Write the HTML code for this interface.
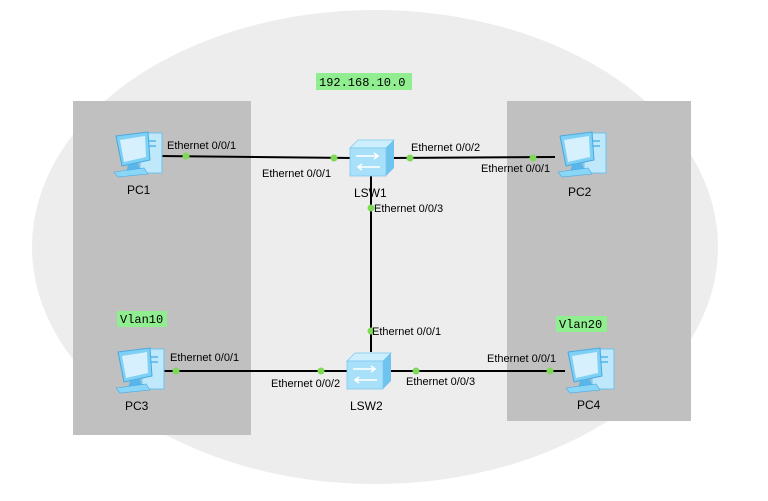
<!DOCTYPE html>
<html><head><meta charset="utf-8"><style>
html,body{margin:0;padding:0;background:#fff;}
svg{display:block;font-family:"Liberation Sans",sans-serif;}
.l{font-size:11px;fill:#000;}
.n{font-size:12px;fill:#000;}
.m{font-family:"Liberation Mono",monospace;font-size:12px;fill:#000;}
</style></head><body>
<svg width="768" height="501" viewBox="0 0 768 501">
<defs>
<g id="pc">
  <rect x="32" y="3" width="22" height="40" fill="#bfe8fb" stroke="#6cc2ee" stroke-width="1"/>
  <rect x="36" y="10" width="12" height="2" fill="#6cc2ee"/>
  <rect x="36" y="15" width="12" height="2" fill="#6cc2ee"/>
  <polygon points="8,6 40,2 42,30 14,36" fill="#7ed0f5" stroke="#4aa8e0"/>
  <polygon points="12,10 37,6 38,27 16,32" fill="#d6f1fd"/>
  <polygon points="20,35 30,33 32,40 18,42" fill="#5ab5ea"/>
  <polygon points="6,42 36,38 40,44 10,47" fill="#8ad6f7" stroke="#4aa8e0" stroke-width="0.6"/>
</g>
<g id="sw">
  <polygon points="0,8 8,0 44,0 36,8" fill="#cdeffd" stroke="#7cc8ee" stroke-width="0.8"/>
  <polygon points="36,8 44,0 44,28 36,36" fill="#6fc3ef"/>
  <rect x="0" y="8" width="36" height="28" fill="#a9e0f9" stroke="#7cc8ee" stroke-width="0.8"/>
  <path d="M6,16 H28 M24,13 L28,16 L24,19 M30,27 H8 M12,24 L8,27 L12,30" stroke="#fff" stroke-width="1.6" fill="none"/>
</g>
</defs>
<ellipse cx="375" cy="247" rx="343" ry="237" fill="#ededed"/>
<rect x="73" y="101" width="178" height="334" fill="#c0c0c0"/>
<rect x="507" y="101" width="184" height="320" fill="#c0c0c0"/>

<rect x="316" y="73" width="96" height="17" fill="#90ee90"/>
<text class="m" x="319" y="86">192.168.10.0</text>
<rect x="117" y="311" width="50" height="16" fill="#90ee90"/>
<text class="m" x="120" y="323">Vlan10</text>
<rect x="556" y="316" width="51" height="16" fill="#90ee90"/>
<text class="m" x="559" y="328">Vlan20</text>

<g stroke="#000" stroke-width="2">
<line x1="160" y1="156" x2="352" y2="158"/>
<line x1="390" y1="158" x2="555" y2="157"/>
<line x1="371" y1="175" x2="371" y2="352"/>
<line x1="160" y1="371" x2="350" y2="371"/>
<line x1="388" y1="371" x2="565" y2="371"/>
</g>

<use href="#pc" x="108" y="130"/>
<use href="#pc" x="552" y="130"/>
<use href="#pc" x="110" y="346"/>
<use href="#pc" x="560" y="346"/>
<use href="#sw" x="350" y="140"/>
<use href="#sw" x="347" y="353"/>

<g fill="#7ed957">
<circle cx="186" cy="156" r="3.5"/><circle cx="334" cy="158" r="3.5"/>
<circle cx="410" cy="158" r="3.5"/><circle cx="533" cy="158" r="3.5"/>
<circle cx="371" cy="208" r="3.5"/><circle cx="371" cy="331" r="3.5"/>
<circle cx="176" cy="371" r="3.5"/><circle cx="321" cy="371" r="3.5"/>
<circle cx="416" cy="371" r="3.5"/><circle cx="550" cy="371" r="3.5"/>
</g>

<text class="l" x="167" y="149">Ethernet 0/0/1</text>
<text class="l" x="262" y="177">Ethernet 0/0/1</text>
<text class="l" x="411" y="151">Ethernet 0/0/2</text>
<text class="l" x="481" y="172">Ethernet 0/0/1</text>
<text class="l" x="374" y="212">Ethernet 0/0/3</text>
<text class="l" x="372" y="335">Ethernet 0/0/1</text>
<text class="l" x="170" y="361">Ethernet 0/0/1</text>
<text class="l" x="271" y="387">Ethernet 0/0/2</text>
<text class="l" x="406" y="385">Ethernet 0/0/3</text>
<text class="l" x="487" y="362">Ethernet 0/0/1</text>

<text class="n" x="127" y="194">PC1</text>
<text class="n" x="568" y="196">PC2</text>
<text class="n" x="125" y="410">PC3</text>
<text class="n" x="577" y="409">PC4</text>
<text class="n" x="354" y="197">LSW1</text>
<text class="n" x="350" y="410">LSW2</text>
</svg>
</body></html>
